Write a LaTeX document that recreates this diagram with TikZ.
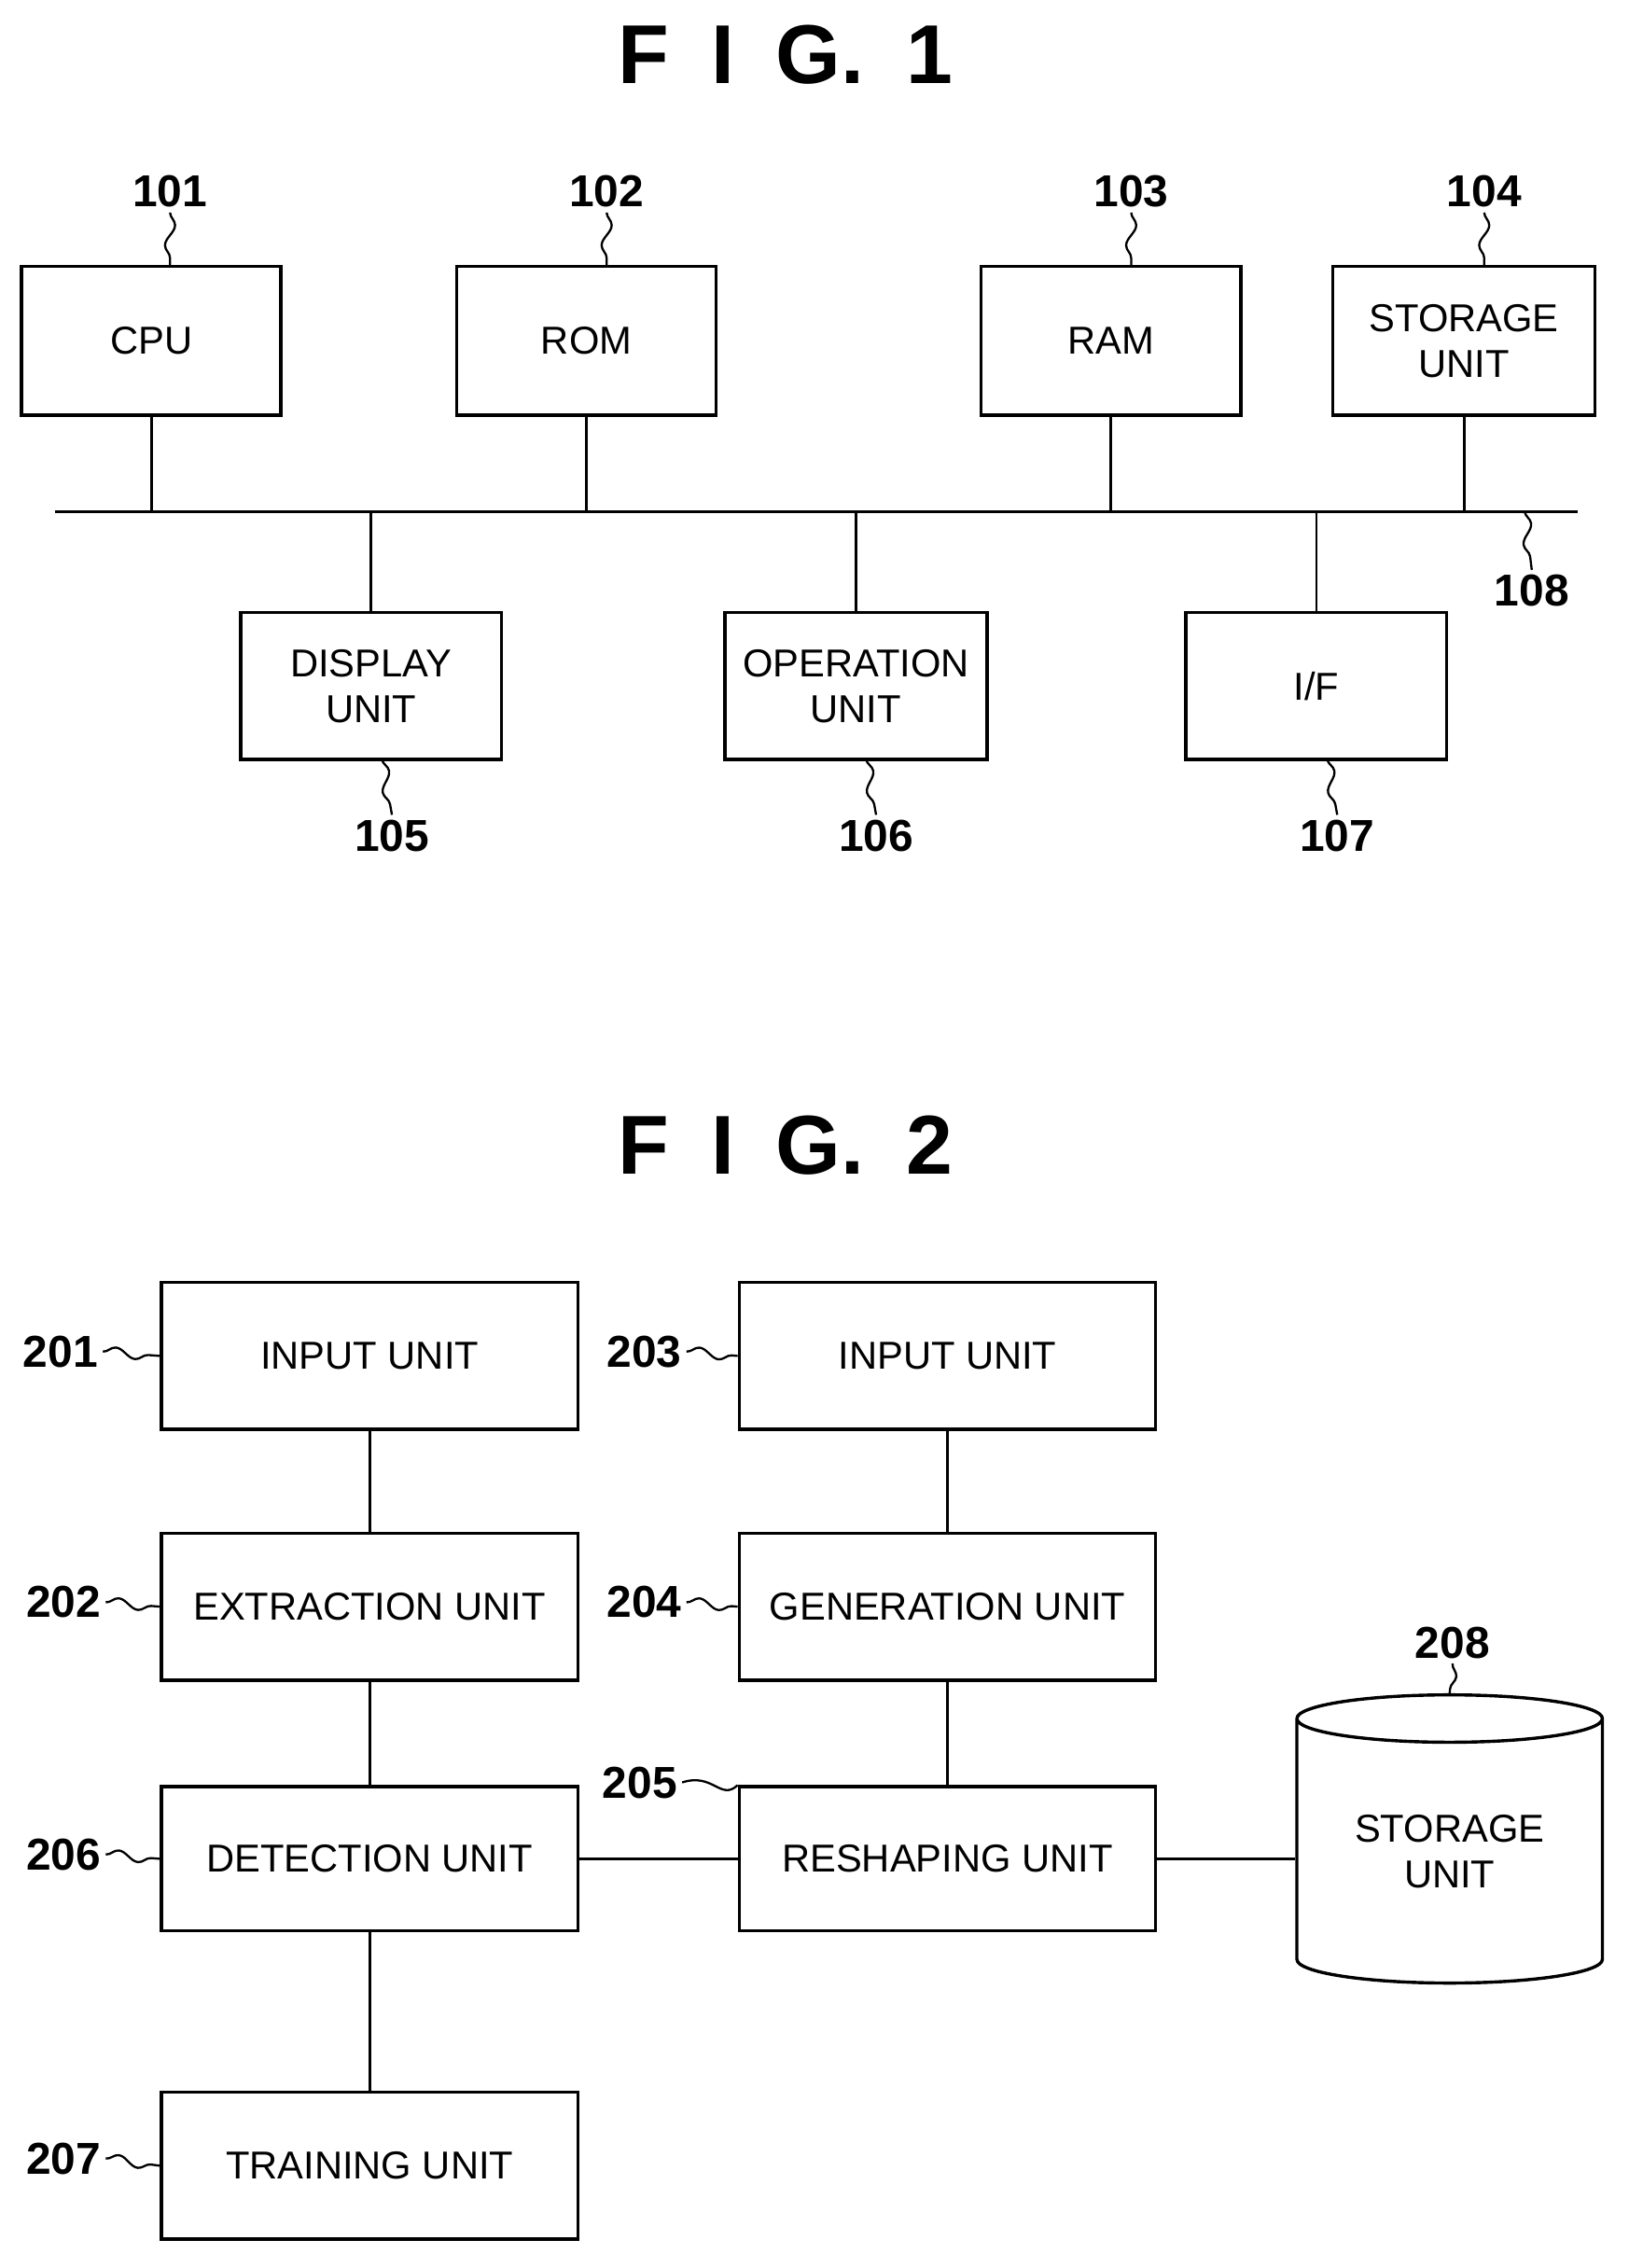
\documentclass[tikz,border=0pt]{standalone}
\usepackage{fontspec}
\setmainfont{Liberation Sans}
\usetikzlibrary{shapes.geometric,decorations.pathmorphing}
\begin{document}
\begin{tikzpicture}[x=1pt,y=-1pt,
 box/.style={draw,line width=2.2pt,inner sep=0pt,align=center,font=\fontsize{27}{32}\selectfont,text depth=0pt},
 lab/.style={font=\fontsize{31}{31}\selectfont\bfseries},
 ttl/.style={font=\fontsize{58}{58}\selectfont\bfseries},
 ln/.style={line width=1.8pt},
 sq/.style={line width=1.5pt,decorate,decoration={snake,amplitude=3.5pt,segment length=28pt}}]
\useasboundingbox (0,0) rectangle (1130,1574);
\newcommand{\bx}[6]{\node[box,minimum width=#4-#2,minimum height=#5-#3] (#1) at ({(#2+#4)/2},{(#3+#5)/2}) {#6};}
% FIG 1
\node[ttl] (t1) at (545,38) {F\,\,\,I\,\,\,G.\,\,\,1};
\bx{cpu}{15}{185}{195}{288}{CPU}
\bx{rom}{317}{185}{497}{288}{ROM}
\bx{ram}{681}{185}{861}{288}{RAM}
\bx{sto}{925}{185}{1107}{288}{STORAGE\\UNIT}
\bx{dis}{167}{425}{348}{527}{DISPLAY\\UNIT}
\bx{ope}{503}{425}{685}{527}{OPERATION\\UNIT}
\bx{if}{823}{425}{1004}{527}{I/F}
\coordinate (bl) at (38,355); \coordinate (br) at (1095,355);
\draw[ln] (bl) -- (br);
\foreach \n in {cpu,rom,ram,sto}{\draw[ln] (\n.south) -- (\n.south |- bl);}
\foreach \n in {dis,ope,if}{\draw[ln] (\n.north) -- (\n.north |- bl);}
\node[lab] (l101) at (118,133) {101}; \draw[sq] (l101.south) -- (118,185);
\node[lab] (l102) at (421,133) {102}; \draw[sq] (l102.south) -- (421,185);
\node[lab] (l103) at (785,133) {103}; \draw[sq] (l103.south) -- (785,185);
\node[lab] (l104) at (1030,133) {104}; \draw[sq] (l104.south) -- (1030,185);
\node[lab] (l105) at (272,580) {105}; \draw[sq] (265,527) -- (l105.north);
\node[lab] (l106) at (608,580) {106}; \draw[sq] (601,527) -- (l106.north);
\node[lab] (l107) at (928,580) {107}; \draw[sq] (921,527) -- (l107.north);
\node[lab] (l108) at (1063,410) {108}; \draw[sq] (1058,355) -- (l108.north);
% FIG 2
\node[ttl] (t2) at (545,795) {F\,\,\,I\,\,\,G.\,\,\,2};
\bx{in1}{112}{890}{401}{992}{INPUT UNIT}
\bx{ext}{112}{1064}{401}{1166}{EXTRACTION UNIT}
\bx{det}{112}{1240}{401}{1340}{DETECTION UNIT}
\bx{tra}{112}{1452}{401}{1554}{TRAINING UNIT}
\bx{in2}{513}{890}{802}{992}{INPUT UNIT}
\bx{gen}{513}{1064}{802}{1166}{GENERATION UNIT}
\bx{res}{513}{1240}{802}{1340}{RESHAPING UNIT}
\node[draw,line width=2.2pt,cylinder,shape border rotate=90,aspect=0.25,minimum width=212pt,minimum height=200pt,align=center,font=\fontsize{27}{32}\selectfont,inner sep=0pt] (db) at (1006,1285) {STORAGE\\UNIT};
\draw[ln] (in1) -- (ext); \draw[ln] (ext) -- (det); \draw[ln] (det) -- (tra);
\draw[ln] (in2) -- (gen); \draw[ln] (gen) -- (res);
\draw[ln] (det) -- (res); \draw[ln] (res.east) -- (res.east -| db.west);
\node[lab] (l201) at (42,938) {201}; \draw[sq] (l201.east) -- (in1.west);
\node[lab] (l202) at (44,1112) {202}; \draw[sq] (l202.east) -- (ext.west);
\node[lab] (l206) at (44,1287) {206}; \draw[sq] (l206.east) -- (det.west);
\node[lab] (l207) at (44,1498) {207}; \draw[sq] (l207.east) -- (tra.west);
\node[lab] (l203) at (447,938) {203}; \draw[sq] (l203.east) -- (in2.west);
\node[lab] (l204) at (447,1112) {204}; \draw[sq] (l204.east) -- (gen.west);
\node[lab] (l205) at (444,1237) {205}; \draw[line width=1.5pt] (l205.east) .. controls (495,1230) and (500,1250) .. (res.north west);
\node[lab] (l208) at (1008,1140) {208}; \draw[sq] (l208.south) -- (db.north);
\end{tikzpicture}
\end{document}
